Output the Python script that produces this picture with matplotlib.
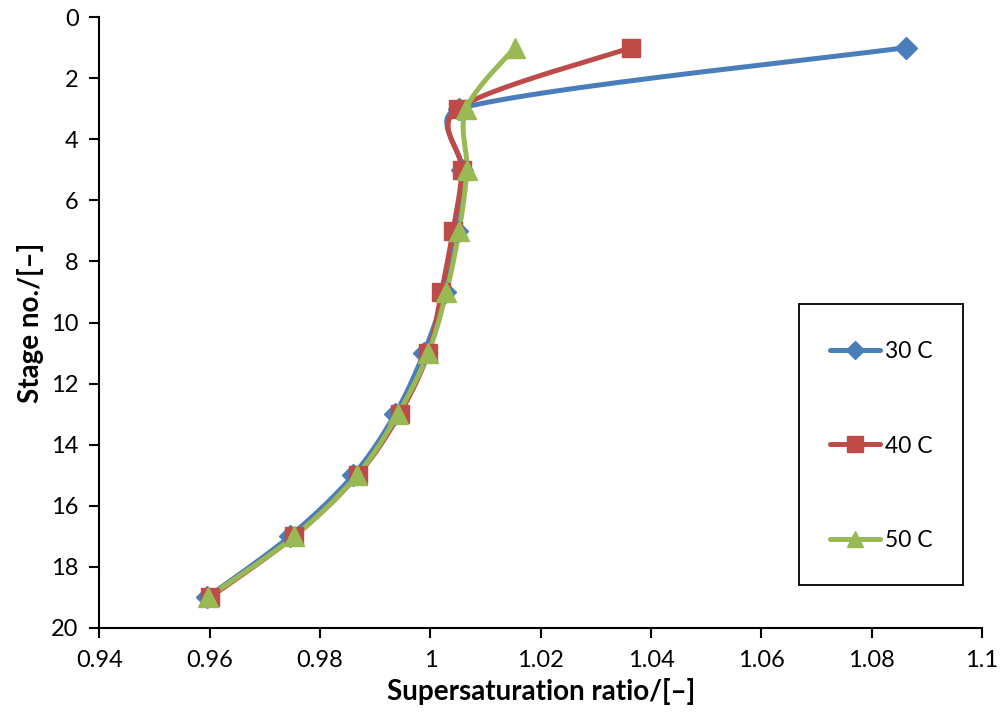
import numpy as np
import matplotlib
matplotlib.use("Agg")
import matplotlib.pyplot as plt
from matplotlib.lines import Line2D
from matplotlib.patches import Rectangle

plt.rcParams['font.family'] = ['Lato', 'DejaVu Sans']

stages = [1, 3, 5, 7, 9, 11, 13, 15, 17, 19]
s_30 = [1.0863, 1.0052, 1.0057, 1.0049, 1.0026, 0.9988, 0.9936, 0.9860, 0.9745, 0.9595]
s_40 = [1.0364, 1.0050, 1.0057, 1.0041, 1.0020, 0.9996, 0.9944, 0.9868, 0.9753, 0.9600]
s_50 = [1.0153, 1.0065, 1.0066, 1.0052, 1.0029, 0.9996, 0.9941, 0.9867, 0.9753, 0.9596]
labels = ['30 C', '40 C', '50 C']
colors = ['#4A7EBB', '#BE4B48', '#98B954']
markers = ['D', 's', '^']
msizes = [11, 13, 14]

xticks = [0.94, 0.96, 0.98, 1.0, 1.02, 1.04, 1.06, 1.08, 1.1]
xtick_labels = ['0.94', '0.96', '0.98', '1', '1.02', '1.04', '1.06', '1.08', '1.1']
yticks = list(range(0, 21, 2))

fig = plt.figure(figsize=(10.03, 7.21), dpi=100)
ax = fig.add_axes([0.0992, 0.129, 0.8798, 0.8474])
ax.set_xlim(0.94, 1.1)
ax.set_ylim(20, 0)


def smooth_path(ax, xs, ys, n=40):
    """Piecewise cubic Bezier through the points (in display space).
    Control offsets are a sixth of the neighbour chord, clamped to half
    of the adjacent segment length to avoid large overshoots."""
    P = ax.transData.transform(np.column_stack([xs, ys]))
    m = len(P)
    d = np.linalg.norm(np.diff(P, axis=0), axis=1)

    def clamp(v, limit):
        L = np.linalg.norm(v)
        return v * (limit / L) if L > limit else v

    out = [P[0]]
    t = np.linspace(0, 1, n)[1:, None]
    for i in range(m - 1):
        prev = P[i - 1] if i > 0 else P[i]
        nxt = P[i + 2] if i + 2 < m else P[i + 1]
        c1 = P[i] + clamp((P[i + 1] - prev) / 6.0, 0.5 * d[i])
        c2 = P[i + 1] - clamp((nxt - P[i]) / 6.0, 0.5 * d[i])
        seg = ((1 - t) ** 3) * P[i] + 3 * (1 - t) ** 2 * t * c1 \
            + 3 * (1 - t) * t ** 2 * c2 + t ** 3 * P[i + 1]
        out.extend(seg)
    out = np.array(out)
    return ax.transData.inverted().transform(out)


handles = []
for vals, lab, col, mk, ms in zip([s_30, s_40, s_50], labels, colors, markers, msizes):
    curve = smooth_path(ax, vals, stages)
    ax.plot(curve[:, 0], curve[:, 1], color=col, lw=3.6, solid_capstyle='round',
            solid_joinstyle='round', zorder=2)
    ax.plot(vals, stages, linestyle='none', marker=mk, ms=ms, color=col,
            markeredgecolor=col, zorder=3)
    handles.append(Line2D([], [], color=col, lw=3.6, marker=mk, ms=ms,
                          markeredgecolor=col, solid_capstyle='round'))

ax.set_xticks(xticks)
ax.set_xticklabels(xtick_labels)
ax.set_yticks(yticks)

for side in ['top', 'right']:
    ax.spines[side].set_visible(False)
for side in ['left', 'bottom']:
    ax.spines[side].set_linewidth(1.5)
    ax.spines[side].set_color('black')
ax.tick_params(axis='both', direction='out', length=7, width=1.5, labelsize=17,
               colors='black')
ax.tick_params(axis='x', pad=9)
ax.tick_params(axis='y', pad=8)

ax.set_xlabel('Supersaturation ratio/[–]', fontsize=20, fontweight='bold', labelpad=5)
ax.set_ylabel('Stage no./[–]', fontsize=20, fontweight='bold', labelpad=5)

# legend box drawn as its own rectangle, entries placed inside it
fig.add_artist(Rectangle((0.7966, 0.1886), 0.1635, 0.3897, transform=fig.transFigure,
                         facecolor='white', edgecolor='black', linewidth=1.3, zorder=4))
leg = fig.legend(handles, labels, loc='center left',
                 bbox_to_anchor=(0.8275, 0.3814), bbox_transform=fig.transFigure,
                 fontsize=16.5, frameon=False,
                 handlelength=2.2, handletextpad=0.2, labelspacing=3.19,
                 borderpad=0, borderaxespad=0, markerscale=0.85)
leg.set_zorder(5)

fig.savefig('out.png', dpi=100, facecolor='white')
